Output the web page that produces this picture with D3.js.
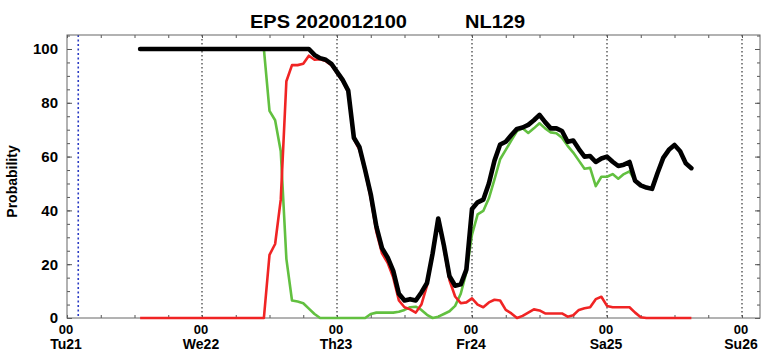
<!DOCTYPE html>
<html>
<head>
<meta charset="utf-8">
<script src="https://cdn.jsdelivr.net/npm/d3@7/dist/d3.min.js"></script>
<style>
body { margin: 0; background: #fff; }
text { font-family: "Liberation Sans", Arial, sans-serif; font-weight: bold; fill: #000; }
</style>
</head>
<body>
<div class="chart"></div>
<script>
// hours counted from Tu21 00, one value per hour
var startHour = 13;
var nowHour = 2;
var dayLabels = ['Tu21', 'We22', 'Th23', 'Fr24', 'Sa25', 'Su26'];
var yTicks = [0, 20, 40, 60, 80, 100];

var total = [
    100, 100, 100, 100, 100, 100, 100, 100, 100, 100, 100, 100, 100, 100, 100, 100,
    100, 100, 100, 100, 100, 100, 100, 100, 100, 100, 100, 100, 100, 100, 100,
    97.8, 96.6, 96, 94.5, 91.5, 88.5, 84.5, 67, 63.5, 55, 46, 34, 26, 22.5, 17.5, 9,
    6.5, 7, 6.5, 9.5, 13, 24, 37, 27, 15.5, 12, 12.5, 18, 40.5, 43, 44, 50,
    58.5, 64.5, 65.5, 68, 70.3, 70.8, 71.8, 73.5, 75.5, 72.8, 70.5, 70.5, 69.5, 65.5, 66, 62.8,
    60, 60.2, 58, 59.3, 60, 58.1, 56.5, 57, 58, 51, 49.3, 48.5, 48, 54, 59.5, 62.5,
    64.3, 62, 57.5, 55.7
];

var green = [
    100, 100, 100, 100, 100, 100, 100, 100, 100, 100, 100, 100, 100, 100, 100, 100,
    100, 100, 100, 100, 100, 100, 100,
    77, 73.5, 62, 22, 6.5, 6.1, 5.5, 3.5, 1.5, 0, 0, 0, 0, 0, 0, 0, 0, 0,
    1.5, 2, 2, 2, 2, 2.3, 3, 4, 4.2, 3, 1.2, 0, 0.5, 1.5, 2.5, 4.5, 9, 17,
    31, 38.5, 39.8, 44.5, 51.5, 59, 62.5, 66, 69.5, 70.5, 68.8, 70.5, 72.4, 70.5, 69, 68.7,
    67, 64, 61.5, 58.5, 55.5, 55.8, 49, 52.5, 52.5, 53.5, 51.8, 53.5, 54.5, 51
];

var red = [
    0, 0, 0, 0, 0, 0, 0, 0, 0, 0, 0, 0, 0, 0, 0, 0, 0, 0, 0, 0, 0, 0, 0,
    23.5, 27.5, 44, 88, 94, 94, 94.5, 97.5, 96, 96.2, 95.5, 94, 91, 88, 84, 66.5, 62.5,
    54.5, 44.5, 32, 24, 20.5, 15, 6.5, 4, 3.2, 2, 5, 12, 24, 37, 26, 14, 8, 5.5, 5.8,
    7.3, 5, 4, 5.8, 6.8, 6.5, 3, 1.7, 0, 0.8, 2, 3.2, 2.8, 1.7, 1.7, 1.7, 1.7, 0.5, 1,
    3, 3.6, 4, 7, 7.9, 4.5, 4, 4, 4, 4, 2, 0.3, 0, 0, 0, 0, 0, 0, 0, 0, 0
];

var margin = { top: 35, right: 4, bottom: 34, left: 67 };
var width = 764 - margin.left - margin.right;
var height = 352 - margin.top - margin.bottom;

var svg = d3.select('.chart')
    .append('svg')
    .attr('width', 764)
    .attr('height', 352)
    .append('g')
    .attr('transform', 'translate(' + margin.left + ', ' + margin.top + ')');

var xScale = d3.scaleLinear().domain([0, 123.2]).range([0, width]);
var yScale = d3.scaleLinear().domain([0, 105.2]).range([height, 0]);

// title
svg.append('text').attr('x', 183).attr('y', -7)
    .attr('textLength', 157).attr('lengthAdjust', 'spacingAndGlyphs')
    .style('font-size', '18px').text('EPS 2020012100');
svg.append('text').attr('x', 398).attr('y', -7)
    .attr('textLength', 60).attr('lengthAdjust', 'spacingAndGlyphs')
    .style('font-size', '18px').text('NL129');

svg.append('text')
    .attr('transform', 'translate(-50, ' + (yScale(50) - 2) + ') rotate(-90)')
    .style('text-anchor', 'middle')
    .style('font-size', '14px')
    .text('Probability');

// day lines
svg.selectAll('.day')
    .data(dayLabels.slice(1))
    .enter()
    .append('line')
    .attr('class', 'day')
    .attr('x1', (d, i) => xScale((i + 1) * 24))
    .attr('x2', (d, i) => xScale((i + 1) * 24))
    .attr('y1', 0)
    .attr('y2', height)
    .style('stroke', '#444')
    .style('stroke-width', 1.3)
    .style('stroke-dasharray', '1.5,2.5');

svg.append('line')
    .attr('x1', xScale(nowHour)).attr('x2', xScale(nowHour))
    .attr('y1', 0).attr('y2', height)
    .style('stroke', '#2a3bc4')
    .style('stroke-width', 1.6)
    .style('stroke-dasharray', '2,2.5');

// axes (ticks pointing inward)
var hourTicks = d3.range(0, 124, 6);
var minorY = d3.range(0, 106, 5);

function styleAxis(g) {
    g.select('.domain').remove();
    g.selectAll('line').style('stroke', '#555');
}

svg.append('g').call(d3.axisLeft(yScale).tickValues(minorY).tickSize(-3).tickFormat('')).call(styleAxis);
svg.append('g').call(d3.axisLeft(yScale).tickValues(yTicks).tickSize(-5).tickPadding(9))
    .call(styleAxis)
    .selectAll('text').style('font-size', '15px');
svg.append('g').attr('transform', `translate(${width}, 0)`)
    .call(d3.axisRight(yScale).tickValues(minorY).tickSize(-3).tickFormat('')).call(styleAxis);
svg.append('g').attr('transform', `translate(${width}, 0)`)
    .call(d3.axisRight(yScale).tickValues(yTicks).tickSize(-5).tickFormat('')).call(styleAxis);
svg.append('g').call(d3.axisTop(xScale).tickValues(hourTicks).tickSize(-3).tickFormat('')).call(styleAxis);
svg.append('g').attr('transform', `translate(0, ${height})`)
    .call(d3.axisBottom(xScale).tickValues(hourTicks).tickSize(-3).tickFormat('')).call(styleAxis);

svg.append('rect')
    .attr('width', width).attr('height', height)
    .style('fill', 'none')
    .style('stroke', '#666')
    .style('stroke-width', 1);

// two-line day labels
var labels = svg.selectAll('.daylabel')
    .data(dayLabels)
    .enter()
    .append('g')
    .attr('class', 'daylabel')
    .attr('transform', (d, i) => `translate(${xScale(i * 24) - 1}, ${height})`);
labels.append('text').attr('y', 16).style('text-anchor', 'middle').style('font-size', '13px').text('00');
labels.append('text').attr('y', 31).style('text-anchor', 'middle').style('font-size', '14px').text(d => d);

// series
var line = d3.line()
    .x((d, i) => xScale(startHour + i))
    .y(d => yScale(d));

svg.append('path').datum(green)
    .attr('d', line)
    .style('fill', 'none')
    .style('stroke', '#62c040')
    .style('stroke-width', 2.6)
    .style('stroke-linejoin', 'round');

svg.append('path').datum(red)
    .attr('d', line)
    .style('fill', 'none')
    .style('stroke', '#f02424')
    .style('stroke-width', 2.6)
    .style('stroke-linejoin', 'round');

svg.append('path').datum(total)
    .attr('d', line)
    .style('fill', 'none')
    .style('stroke', '#000')
    .style('stroke-width', 4.6)
    .style('stroke-linejoin', 'round')
    .style('stroke-linecap', 'round');
</script>
</body>
</html>
